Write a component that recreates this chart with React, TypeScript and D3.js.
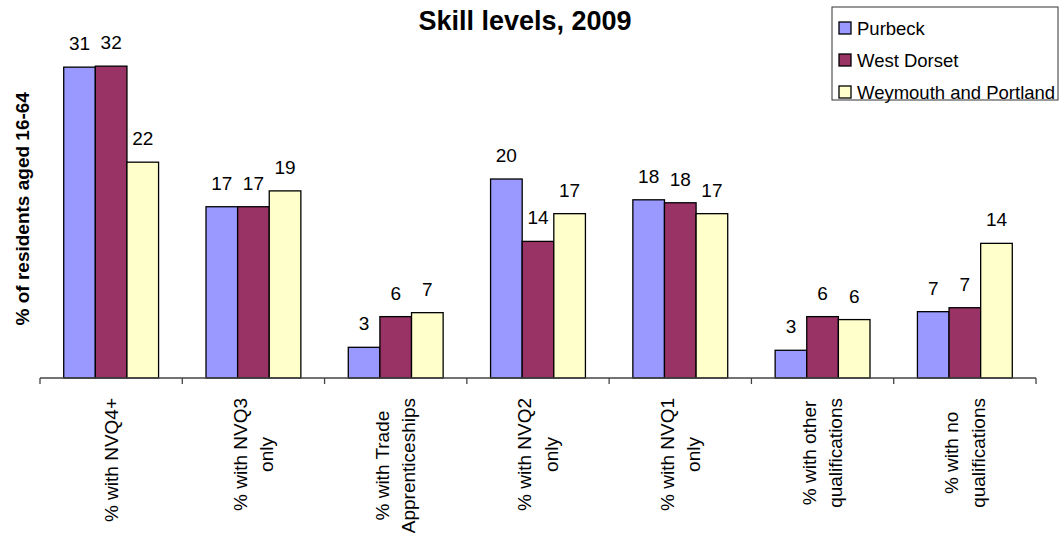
import React, { useEffect, useRef } from "react";
import * as d3 from "d3";

const categories: string[][] = [
  ["% with NVQ4+"],
  ["% with NVQ3", "only"],
  ["% with Trade", "Apprenticeships"],
  ["% with NVQ2", "only"],
  ["% with NVQ1", "only"],
  ["% with other", "qualifications"],
  ["% with no", "qualifications"],
];
const seriesNames = ["Purbeck", "West Dorset", "Weymouth and Portland"];
const purbeck = [31.4, 17.3, 3.1, 20.1, 18.0, 2.8, 6.7];
const westDorset = [31.5, 17.3, 6.2, 13.8, 17.7, 6.2, 7.1];
const weymouth = [21.8, 18.9, 6.6, 16.6, 16.6, 5.9, 13.6];
const seriesValues = [purbeck, westDorset, weymouth];
const colors = ["#9999FF", "#993366", "#FFFFCC"];
const title = "Skill levels, 2009";
const yTitle = "% of residents aged 16-64";
const yMax = 35;

const FONT = "'Liberation Sans', Arial, Helvetica, sans-serif";

export default function App() {
  const ref = useRef<SVGSVGElement>(null);
  useEffect(() => {
    const svg = d3.select(ref.current);
    svg.selectAll("*").remove();
    const left = 40, right = 1036, base = 378, top = 31.5;

    const x0 = d3.scaleBand<number>().domain(d3.range(categories.length)).range([left, right]).paddingInner(0).paddingOuter(0);
    const bw = x0.bandwidth();
    const unit = bw / 4.5;
    const x1 = d3.scaleBand<number>().domain(d3.range(seriesNames.length)).range([0.75 * unit, 3.75 * unit]).padding(0);
    const y = d3.scaleLinear().domain([0, yMax]).range([base, top]);

    const g = svg.append("g").attr("font-family", FONT);

    // bars
    seriesValues.forEach((vals, s) => {
      g.append("g").selectAll("rect").data(vals).join("rect")
        .attr("x", (_d, i) => (x0(i) as number) + (x1(s) as number))
        .attr("y", (d) => y(d))
        .attr("width", x1.bandwidth())
        .attr("height", (d) => base - y(d))
        .attr("fill", colors[s])
        .attr("stroke", "#000")
        .attr("stroke-width", 1.3);
      g.append("g").selectAll("text").data(vals).join("text")
        .attr("x", (_d, i) => (x0(i) as number) + (x1(s) as number) + x1.bandwidth() / 2)
        .attr("y", (d) => y(d) - 17)
        .attr("text-anchor", "middle")
        .attr("font-size", 19)
        .attr("fill", "#000")
        .text((d) => d3.format(".0f")(d));
    });

    // x axis
    const ax = g.append("g").attr("stroke", "#444").attr("stroke-width", 1.3);
    ax.append("line").attr("x1", left).attr("x2", right).attr("y1", base).attr("y2", base);
    const ticks = d3.range(categories.length + 1).map((i) => (i < categories.length ? (x0(i) as number) : right));
    ax.selectAll("line.tick").data(ticks).join("line").attr("class", "tick")
      .attr("x1", (d) => d).attr("x2", (d) => d).attr("y1", base).attr("y2", base + 6);

    // category labels
    const lh = 26.5;
    categories.forEach((lines, i) => {
      const cx = (x0(i) as number) + bw / 2;
      const grp = g.append("g");
      const texts = lines.map((ln) =>
        grp.append("text")
          .attr("font-size", 19)
          .attr("text-anchor", "middle")
          .attr("fill", "#000")
          .text(ln)
      );
      const maxW = d3.max(texts, (t) => (t.node() as SVGTextElement).getComputedTextLength()) || 0;
      const cy = 398 + maxW / 2;
      texts.forEach((t, k) => {
        const bx = cx + (k - (lines.length - 1) / 2) * lh + 6.5;
        t.attr("transform", `translate(${bx},${cy}) rotate(-90)`);
      });
    });

    // y title
    g.append("text")
      .attr("transform", `translate(29,${(base + top) / 2 + 4}) rotate(-90)`)
      .attr("text-anchor", "middle")
      .attr("font-size", 19)
      .attr("font-weight", "bold")
      .text(yTitle);

    // title
    g.append("text")
      .attr("x", 525).attr("y", 30)
      .attr("text-anchor", "middle")
      .attr("font-size", 27)
      .attr("font-weight", "bold")
      .text(title);

    // legend
    const lg = g.append("g");
    lg.append("rect").attr("x", 832).attr("y", 7).attr("width", 226).attr("height", 93)
      .attr("fill", "#fff").attr("stroke", "#333").attr("stroke-width", 1);
    seriesNames.forEach((nm, s) => {
      const cy = 28 + s * 32;
      lg.append("rect").attr("x", 839).attr("y", cy - 6).attr("width", 12).attr("height", 12)
        .attr("fill", colors[s]).attr("stroke", "#000").attr("stroke-width", 1.3);
      lg.append("text").attr("x", 857).attr("y", cy + 6.5).attr("font-size", 18.5).text(nm);
    });
  }, []);
  return (
    <svg ref={ref} width={1061} height={538}
      style={{ position: "absolute", left: 0, top: 0, background: "#fff" }} />
  );
}
